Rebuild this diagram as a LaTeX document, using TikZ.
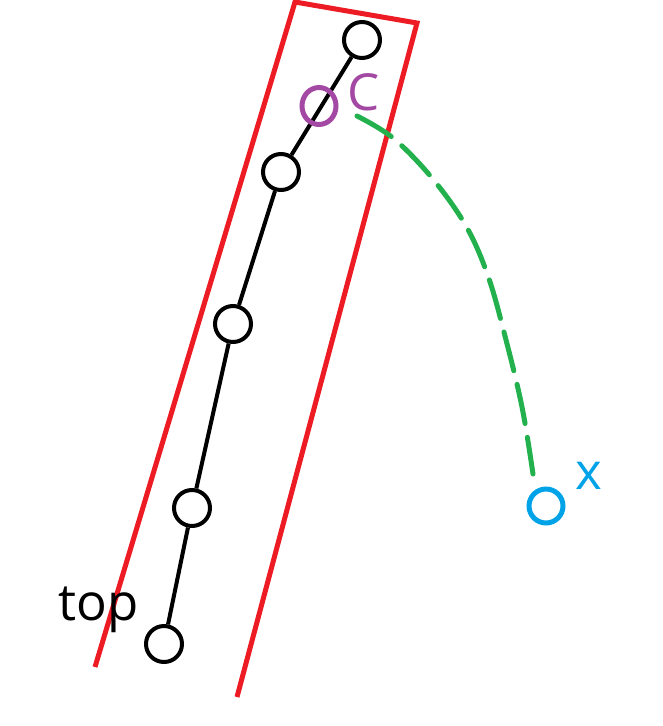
\documentclass[tikz,border=0pt]{standalone}
\usepackage{fontspec}
\setmainfont{Open Sans}
\usetikzlibrary{shapes.geometric}
\definecolor{pred}{HTML}{ED1C24}
\definecolor{pgreen}{HTML}{22B14C}
\definecolor{ppurple}{HTML}{A349A4}
\definecolor{pblue}{HTML}{00A2E8}
\tikzset{
  joint/.style={circle, draw=black, line width=4pt, minimum size=36pt, inner sep=0pt},
  chain/.style={draw=black, line width=4pt},
  frame/.style={draw=pred, line width=5pt, line join=miter},
  lbl/.style={font=\fontsize{51}{55}\selectfont, inner sep=0pt, anchor=base west},
}
\begin{document}
\begin{tikzpicture}[x=1pt,y=-1pt]
\useasboundingbox (0,0) rectangle (663,726);
% red frame
\coordinate (fbl) at (95,667);
\coordinate (ftl) at (295,2);
\coordinate (ftr) at (417,23);
\coordinate (fbr) at (237,697);
\draw[frame] (fbl) -- (ftl) -- (ftr) -- (fbr);
% chain
\node[joint] (n1) at (362,40) {};
\node[joint] (n2) at (281,172) {};
\node[joint] (n3) at (233,324) {};
\node[joint] (n4) at (192,508) {};
\node[joint] (n5) at (164,644) {};
\draw[chain] (n1) -- (n2) -- (n3) -- (n4) -- (n5);
% purple C circle
\node[ellipse, draw=ppurple, line width=5pt, minimum width=34pt, minimum height=37pt, inner sep=0pt] (c) at (319,106) {};
\node[lbl, text=ppurple] (clbl) at (347,110) {C};
% blue x circle
\node[circle, draw=pblue, line width=5pt, minimum size=34pt, inner sep=0pt] (xc) at (546,506) {};
\node[lbl, text=pblue] (xlbl) at (575,489) {x};
% top label
\node[lbl, text=black] (toplbl) at (58,620) {top};
% green dashed curve
\coordinate (gs) at (357,116);
\coordinate (ge) at (533,474);
\draw[pgreen, line width=5pt, line cap=round, dash pattern=on 40pt off 14pt]
  plot[smooth, tension=0.6] coordinates {(gs) (393,138) (432,178) (466,226) (488,276) (505,336) (522,407) (ge)};
\end{tikzpicture}
\end{document}
